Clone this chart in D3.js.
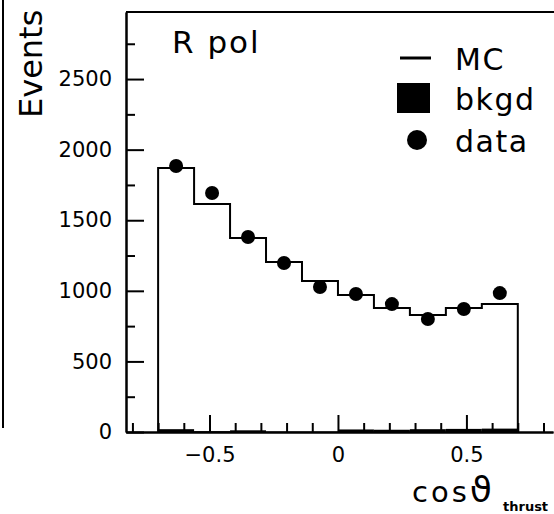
<!DOCTYPE html>
<html>
<head>
<meta charset="utf-8">
<script src="https://cdn.jsdelivr.net/npm/d3@7"></script>
<style>
  body { margin: 0; background: #fff; }
  text { font-family: "DejaVu Sans", sans-serif; fill: #000; }
</style>
</head>
<body>
<script>
var width = 554;
var height = 514;

// binning of cos(theta_thrust)
var binEdges = [-0.70, -0.56, -0.42, -0.28, -0.14, 0.00, 0.14, 0.28, 0.42, 0.56, 0.70];
var binCentres = [-0.63, -0.49, -0.35, -0.21, -0.07, 0.07, 0.21, 0.35, 0.49, 0.63];
var mcEvents = [1870, 1615, 1374, 1204, 1069, 970, 878, 828, 878, 906];
var bkgdEvents = [20, 6, 12, 3, 3, 18, 16, 20, 22, 24];
var dataEvents = [1884, 1693, 1381, 1197, 1027, 977, 906, 800, 871, 984];

var xMajor = [-0.5, 0, 0.5];
var xMajorLabels = ["\u22120.5", "0", "0.5"];
var xMinor = [-0.8, -0.7, -0.6, -0.4, -0.3, -0.2, -0.1, 0.1, 0.2, 0.3, 0.4, 0.6, 0.7, 0.8];
var yMajor = [0, 500, 1000, 1500, 2000, 2500];
var yMinor = [250, 750, 1250, 1750, 2250, 2750];
var legendLabels = ["MC", "bkgd", "data"];

var x = d3.scaleLinear().domain([-0.825, 0.837]).range([126, 553]);
var y = d3.scaleLinear().domain([0, 2975]).range([432, 12]);

var svg = d3.select("body").append("svg")
    .attr("width", width)
    .attr("height", height);

// edge of the neighbouring panel on the page
svg.append("line")
    .attr("x1", 3).attr("x2", 3).attr("y1", 0).attr("y2", 428)
    .attr("stroke", "#000").attr("stroke-width", 2);

// top frame line
svg.append("line")
    .attr("x1", x.range()[0]).attr("x2", width)
    .attr("y1", y.range()[1]).attr("y2", y.range()[1])
    .attr("stroke", "#000").attr("stroke-width", 2);

// background histogram (filled)
svg.selectAll(".bkgd").data(bkgdEvents).enter().append("rect")
    .attr("class", "bkgd")
    .attr("x", function(d, i) { return x(binEdges[i]); })
    .attr("width", function(d, i) { return x(binEdges[i + 1]) - x(binEdges[i]); })
    .attr("y", function(d) { return y(d); })
    .attr("height", function(d) { return y(0) - y(d); })
    .attr("fill", "#000");

// MC histogram as a step line
var steps = [[binEdges[0], 0]];
for (var i = 0; i < mcEvents.length; i++) {
    steps.push([binEdges[i], mcEvents[i]]);
    steps.push([binEdges[i + 1], mcEvents[i]]);
}
steps.push([binEdges[binEdges.length - 1], 0]);

svg.append("path")
    .attr("d", d3.line().x(function(d) { return x(d[0]); }).y(function(d) { return y(d[1]); })(steps))
    .attr("fill", "none")
    .attr("stroke", "#000")
    .attr("stroke-width", 2);

// data points
svg.selectAll(".dataPoint").data(dataEvents).enter().append("circle")
    .attr("class", "dataPoint")
    .attr("cx", function(d, i) { return x(binCentres[i]); })
    .attr("cy", function(d) { return y(d); })
    .attr("r", 7)
    .attr("fill", "#000");

// x axis: minor then major ticks, pointing inwards
var xMinorAxis = d3.axisBottom(x).tickValues(xMinor).tickSize(-9).tickSizeOuter(0).tickFormat("");
var xMajorAxis = d3.axisBottom(x).tickValues(xMajor).tickSize(-17).tickSizeOuter(0).tickPadding(15)
    .tickFormat(function(d, i) { return xMajorLabels[i]; });

svg.append("g").attr("class", "xMinor")
    .attr("transform", "translate(0," + y(0) + ")")
    .call(xMinorAxis);
svg.append("g").attr("class", "xAxis")
    .attr("transform", "translate(0," + y(0) + ")")
    .call(xMajorAxis);

// y axis
var yMinorAxis = d3.axisLeft(y).tickValues(yMinor).tickSize(-9).tickSizeOuter(0).tickFormat("");
var yMajorAxis = d3.axisLeft(y).tickValues(yMajor).tickSize(-18).tickSizeOuter(0).tickPadding(14)
    .tickFormat(d3.format("d"));

svg.append("g").attr("class", "yMinor")
    .attr("transform", "translate(" + x.range()[0] + ",0)")
    .call(yMinorAxis);
svg.append("g").attr("class", "yAxis")
    .attr("transform", "translate(" + x.range()[0] + ",0)")
    .call(yMajorAxis);

svg.selectAll(".domain").attr("stroke-width", 2);
svg.selectAll(".tick line").attr("stroke-width", 2);
svg.selectAll(".tick text")
    .style("font-family", "'DejaVu Sans', sans-serif")
    .attr("font-size", 21);

// axis titles
svg.append("text")
    .attr("transform", "translate(42,118) rotate(-90)")
    .attr("font-size", 32)
    .text("Events");

var xTitle = svg.append("text")
    .attr("x", 412).attr("y", 502)
    .attr("font-size", 29);
xTitle.append("tspan").attr("letter-spacing", 3).text("cos");
xTitle.append("tspan").attr("font-size", 36).text("\u03D1");

svg.append("text")
    .attr("x", 503).attr("y", 511)
    .attr("font-size", 13)
    .attr("font-weight", "bold")
    .text("thrust");

// panel label
svg.append("text")
    .attr("x", 172).attr("y", 53)
    .attr("font-size", 31)
    .attr("letter-spacing", 2)
    .text("R pol");

// legend
var legendY = [58, 98, 140];
var legend = svg.append("g").attr("class", "legend");

legend.append("line")
    .attr("x1", 400).attr("x2", 431)
    .attr("y1", legendY[0]).attr("y2", legendY[0])
    .attr("stroke", "#000").attr("stroke-width", 3);
legend.append("rect")
    .attr("x", 397).attr("y", legendY[1] - 15)
    .attr("width", 33).attr("height", 30)
    .attr("fill", "#000");
legend.append("circle")
    .attr("cx", 417).attr("cy", legendY[2])
    .attr("r", 10)
    .attr("fill", "#000");

legend.selectAll("text").data(legendLabels).enter().append("text")
    .attr("x", 455)
    .attr("y", function(d, i) { return legendY[i] + 12; })
    .attr("font-size", 30)
    .attr("letter-spacing", 1.5)
    .text(function(d) { return d; });
</script>
</body>
</html>
